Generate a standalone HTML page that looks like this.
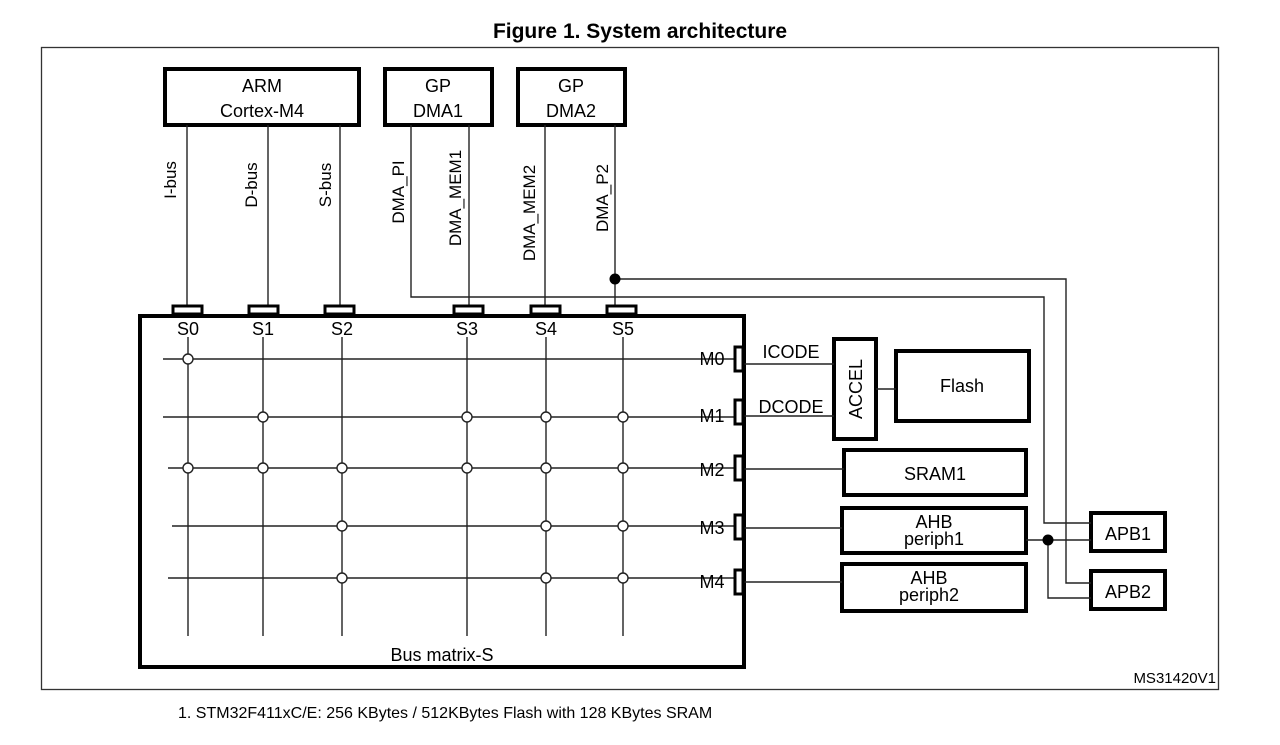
<!DOCTYPE html>
<html><head><meta charset="utf-8"><style>
html,body{margin:0;padding:0;background:#fff;width:1280px;height:745px;overflow:hidden}
svg{display:block}
text{font-family:"Liberation Sans",Arial,sans-serif;fill:#000}
</style></head><body>
<svg width="1280" height="745" viewBox="0 0 1280 745" xmlns="http://www.w3.org/2000/svg">
<text x="640" y="38" font-size="21" font-weight="bold" text-anchor="middle">Figure 1. System architecture</text>
<rect x="41.5" y="47.5" width="1177" height="642" fill="none" stroke="#333" stroke-width="1.3"/>
<g fill="none" stroke="#000" stroke-width="4">
<rect x="165" y="69" width="194" height="56"/>
<rect x="385" y="69" width="107" height="56"/>
<rect x="518" y="69" width="107" height="56"/>
<rect x="140" y="316" width="604" height="351"/>
<rect x="834" y="339" width="42" height="100"/>
<rect x="896" y="351" width="133" height="70"/>
<rect x="844" y="450" width="182" height="45"/>
<rect x="842" y="508" width="184" height="45"/>
<rect x="842" y="564" width="184" height="47"/>
<rect x="1091" y="513" width="74" height="38"/>
<rect x="1091" y="571" width="74" height="38"/>
</g>
<g font-size="18" text-anchor="middle">
<text x="262" y="92">ARM</text><text x="262" y="117">Cortex-M4</text>
<text x="438" y="92">GP</text><text x="438" y="117">DMA1</text>
<text x="571" y="92">GP</text><text x="571" y="117">DMA2</text>
<text x="962" y="392">Flash</text>
<text x="935" y="480">SRAM1</text>
<text x="934" y="528">AHB</text><text x="934" y="545">periph1</text>
<text x="929" y="584">AHB</text><text x="929" y="601">periph2</text>
<text x="1128" y="540">APB1</text>
<text x="1128" y="598">APB2</text>
<text x="442" y="661">Bus matrix-S</text>
<text transform="translate(862,389) rotate(-90)">ACCEL</text>
</g>
<g font-size="17" text-anchor="middle">
<text transform="translate(176,180) rotate(-90)">I-bus</text>
<text transform="translate(257,185) rotate(-90)">D-bus</text>
<text transform="translate(331,185) rotate(-90)">S-bus</text>
<text transform="translate(404,192) rotate(-90)">DMA_PI</text>
<text transform="translate(461,198) rotate(-90)">DMA_MEM1</text>
<text transform="translate(535,213) rotate(-90)">DMA_MEM2</text>
<text transform="translate(608,198) rotate(-90)">DMA_P2</text>
</g>
<g fill="none" stroke="#222" stroke-width="1.4">
<line x1="187" y1="125" x2="187" y2="306"/>
<line x1="268" y1="125" x2="268" y2="306"/>
<line x1="340" y1="125" x2="340" y2="306"/>
<line x1="469" y1="125" x2="469" y2="306"/>
<line x1="545" y1="125" x2="545" y2="306"/>
<line x1="615" y1="125" x2="615" y2="306"/>
<polyline points="411,125 411,297 1044,297 1044,523 1091,523"/>
<polyline points="615,279 1066,279 1066,583 1091,583"/>
<polyline points="1026,540 1091,540"/>
<polyline points="1048,540 1048,598 1091,598"/>
<line x1="744" y1="364" x2="834" y2="364"/>
<line x1="744" y1="416" x2="834" y2="416"/>
<line x1="876" y1="389" x2="896" y2="389"/>
<line x1="744" y1="469" x2="844" y2="469"/>
<line x1="744" y1="528" x2="842" y2="528"/>
<line x1="744" y1="582" x2="842" y2="582"/>
<line x1="163" y1="359" x2="736" y2="359"/>
<line x1="163" y1="417" x2="736" y2="417"/>
<line x1="168" y1="468" x2="736" y2="468"/>
<line x1="172" y1="526" x2="736" y2="526"/>
<line x1="168" y1="578" x2="736" y2="578"/>
<line x1="188" y1="337" x2="188" y2="636"/>
<line x1="263" y1="337" x2="263" y2="636"/>
<line x1="342" y1="337" x2="342" y2="636"/>
<line x1="467" y1="337" x2="467" y2="636"/>
<line x1="546" y1="337" x2="546" y2="636"/>
<line x1="623" y1="337" x2="623" y2="636"/>
</g>
<g fill="#fff" stroke="#000" stroke-width="3">
<rect x="173" y="306" width="29" height="8"/>
<rect x="249" y="306" width="29" height="8"/>
<rect x="325" y="306" width="29" height="8"/>
<rect x="454" y="306" width="29" height="8"/>
<rect x="531" y="306" width="29" height="8"/>
<rect x="607" y="306" width="29" height="8"/>
<rect x="735" y="347" width="8" height="24"/>
<rect x="735" y="400" width="8" height="24"/>
<rect x="735" y="456" width="8" height="24"/>
<rect x="735" y="515" width="8" height="24"/>
<rect x="735" y="570" width="8" height="24"/>
</g>
<g font-size="18" text-anchor="middle">
<text x="188" y="335">S0</text><text x="263" y="335">S1</text><text x="342" y="335">S2</text>
<text x="467" y="335">S3</text><text x="546" y="335">S4</text><text x="623" y="335">S5</text>
<text x="712" y="365">M0</text><text x="712" y="422">M1</text><text x="712" y="476">M2</text>
<text x="712" y="534">M3</text><text x="712" y="588">M4</text>
<text x="791" y="358">ICODE</text><text x="791" y="413">DCODE</text>
</g>
<g fill="#fff" stroke="#222" stroke-width="1.4">
<circle cx="188" cy="359" r="5"/>
<circle cx="263" cy="417" r="5"/><circle cx="467" cy="417" r="5"/><circle cx="546" cy="417" r="5"/><circle cx="623" cy="417" r="5"/>
<circle cx="188" cy="468" r="5"/><circle cx="263" cy="468" r="5"/><circle cx="342" cy="468" r="5"/><circle cx="467" cy="468" r="5"/><circle cx="546" cy="468" r="5"/><circle cx="623" cy="468" r="5"/>
<circle cx="342" cy="526" r="5"/><circle cx="546" cy="526" r="5"/><circle cx="623" cy="526" r="5"/>
<circle cx="342" cy="578" r="5"/><circle cx="546" cy="578" r="5"/><circle cx="623" cy="578" r="5"/>
</g>
<circle cx="615" cy="279" r="5.5" fill="#000"/>
<circle cx="1048" cy="540" r="5.5" fill="#000"/>
<text x="1216" y="683" font-size="15" text-anchor="end">MS31420V1</text>
<text x="178" y="718" font-size="16">1.   STM32F411xC/E:  256 KBytes / 512KBytes Flash with 128 KBytes SRAM</text>
</svg>
</body></html>
